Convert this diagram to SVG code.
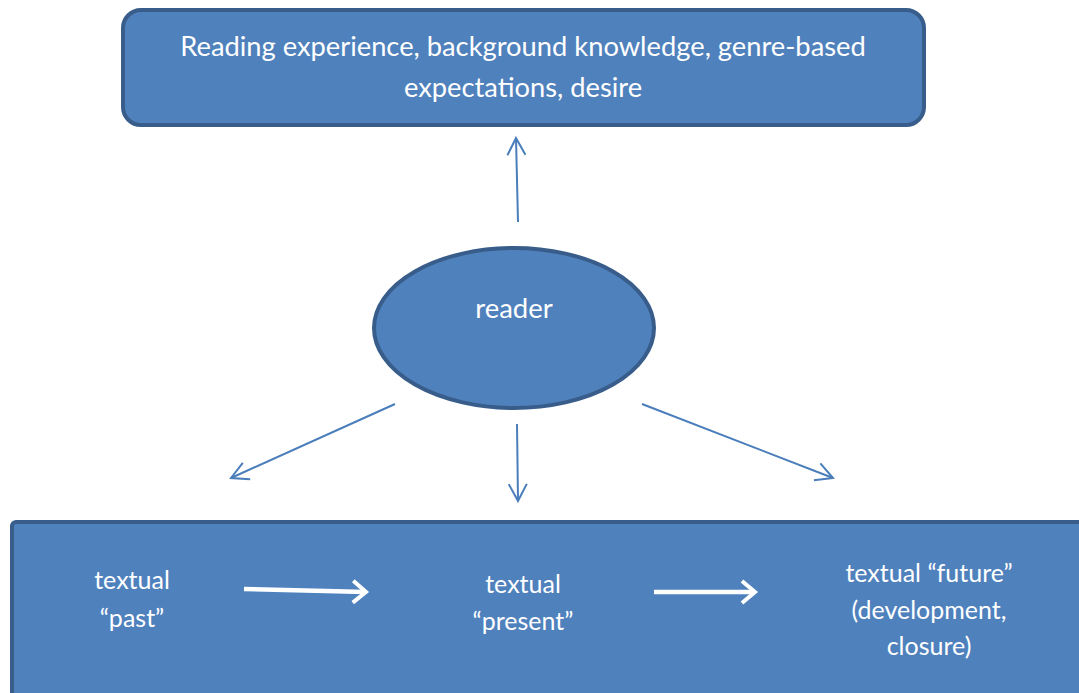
<svg xmlns="http://www.w3.org/2000/svg" width="1079" height="693" viewBox="0 0 1079 693">
  <style>
    .box { fill: #4f81bd; stroke: #385d8a; stroke-width: 4; }
    .label { fill: #ffffff; font-family: Lato, "Liberation Sans", sans-serif; text-anchor: middle; }
    .link { stroke: #4a7ebb; stroke-width: 2; fill: none; }
    .flow { stroke: #ffffff; stroke-width: 4.5; fill: none; }
  </style>
  <defs>
    <marker id="openHead" viewBox="0 0 20 20" refX="18" refY="10" markerWidth="20" markerHeight="20" markerUnits="userSpaceOnUse" orient="auto">
      <path d="M1,1 L18,10 L1,19" fill="none" stroke="#4a7ebb" stroke-width="2"/>
    </marker>
    <marker id="whiteHead" viewBox="0 0 20 28" refX="16" refY="14" markerWidth="20" markerHeight="28" markerUnits="userSpaceOnUse" orient="auto">
      <path d="M3,3 L16,14 L3,25" fill="none" stroke="#ffffff" stroke-width="4"/>
    </marker>
  </defs>

  <!-- background -->
  <rect width="1079" height="693" fill="#ffffff"/>

  <!-- influences box -->
  <g id="influences">
    <rect class="box" x="123" y="10" width="801" height="115" rx="18" ry="18"/>
    <text class="label" font-size="27.3" x="523" y="56">Reading experience, background knowledge, genre-based</text>
    <text class="label" font-size="27.3" x="523" y="97">expectations, desire</text>
  </g>

  <!-- reader ellipse -->
  <g id="reader">
    <ellipse class="box" cx="514" cy="328" rx="140" ry="80"/>
    <text class="label" font-size="27.5" x="514" y="318">reader</text>
  </g>

  <!-- text timeline panel -->
  <g id="text-panel">
    <rect class="box" x="12" y="522" width="1100" height="200" rx="4" ry="4"/>
  </g>
  <g id="past">
    <text class="label" font-size="25" x="132" y="589">textual</text>
    <text class="label" font-size="25" x="132" y="627">“past”</text>
  </g>
  <g id="present">
    <text class="label" font-size="25" x="523" y="593">textual</text>
    <text class="label" font-size="25" x="523" y="630">“present”</text>
  </g>
  <g id="future">
    <text class="label" font-size="25" x="929" y="582">textual “future”</text>
    <text class="label" font-size="25" x="929" y="619">(development,</text>
    <text class="label" font-size="25" x="929" y="655">closure)</text>
  </g>

  <!-- connectors -->
  <g id="connectors">
    <line class="link" x1="518" y1="222" x2="516" y2="138" marker-end="url(#openHead)"/>
    <line class="link" x1="395" y1="404" x2="231" y2="478" marker-end="url(#openHead)"/>
    <line class="link" x1="517" y1="424" x2="518" y2="501" marker-end="url(#openHead)"/>
    <line class="link" x1="642" y1="404" x2="833" y2="478" marker-end="url(#openHead)"/>
    <line class="flow" x1="244" y1="589" x2="366" y2="592" marker-end="url(#whiteHead)"/>
    <line class="flow" x1="654" y1="592" x2="755" y2="592" marker-end="url(#whiteHead)"/>
  </g>
</svg>
